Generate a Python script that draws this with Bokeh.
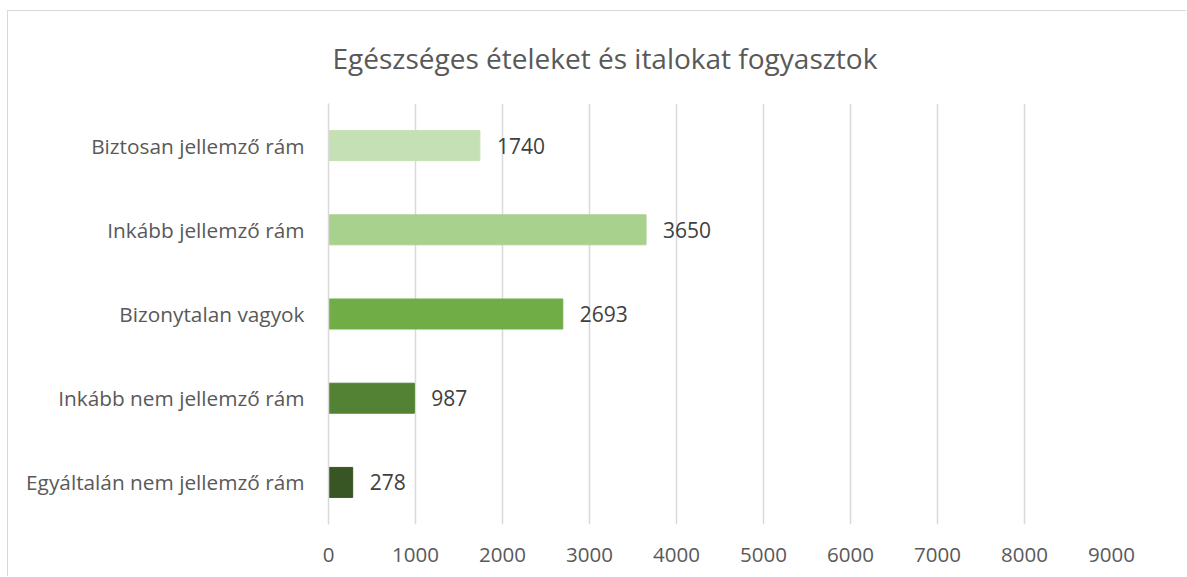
from bokeh.plotting import figure
from bokeh.models import ColumnDataSource, FixedTicker, LabelSet, Range1d
from bokeh.core.properties import value
from bokeh.embed import file_html
from bokeh.resources import INLINE

categories = ["Egyáltalán nem jellemző rám", "Inkább nem jellemző rám", "Bizonytalan vagyok",
              "Inkább jellemző rám", "Biztosan jellemző rám"]
values = [278, 987, 2693, 3650, 1740]
colors = ["#375623", "#548235", "#70AD47", "#A9D18E", "#C5E0B4"]
x_ticks = [0, 1000, 2000, 3000, 4000, 5000, 6000, 7000, 8000, 9000]
title_text = "Egészséges ételeket és italokat fogyasztok"

FONT = "Open Sans"

src = ColumnDataSource(dict(cat=categories, val=values, color=colors,
                            label=[str(v) for v in values]))

p = figure(y_range=categories, x_range=Range1d(0, 9000),
           output_backend="svg", toolbar_location=None,
           min_border_left=320, min_border_top=92, min_border_right=75, min_border_bottom=52,
           frame_width=783, frame_height=421)

p.hbar(y="cat", right="val", left=0, height=0.356, color="color", source=src)

labels = LabelSet(x="val", y="cat", text="label", source=src, x_offset=17,
                  text_baseline="middle", text_align="left", text_font=value(FONT),
                  text_font_size="21px", text_color="#404040")
p.add_layout(labels)

p.title.text = title_text
p.title.align = "left"
p.title.offset = 4
p.title.vertical_align = "top"
p.title.text_font = FONT
p.title.text_font_size = "28px"
p.title.text_font_style = "normal"
p.title.text_color = "#595959"
p.title.standoff = 50

p.xaxis.ticker = FixedTicker(ticks=x_ticks)
p.xaxis.axis_line_color = None
p.xaxis.major_tick_line_color = None
p.xaxis.minor_tick_line_color = None
p.xaxis.major_tick_out = 0
p.xaxis.minor_tick_out = 0
p.xaxis.major_label_text_font = FONT
p.xaxis.major_label_text_font_size = "20.5px"
p.xaxis.major_label_text_color = "#595959"
p.xaxis.major_label_standoff = 23

p.yaxis.axis_line_color = "#D9D9D9"
p.yaxis.axis_line_width = 1.5
p.yaxis.major_tick_line_color = None
p.yaxis.minor_tick_line_color = None
p.yaxis.major_tick_out = 0
p.yaxis.minor_tick_out = 0
p.yaxis.major_label_text_font = FONT
p.yaxis.major_label_text_font_size = "20.8px"
p.yaxis.major_label_text_color = "#595959"
p.yaxis.major_label_standoff = 24

p.xgrid.grid_line_color = "#D9D9D9"
p.xgrid.grid_line_width = 1.5
p.ygrid.grid_line_color = None
p.outline_line_color = None
p.background_fill_color = "white"
p.border_fill_color = "white"
p.styles = {"border-top": "1px solid #D9D9D9", "border-left": "1px solid #D9D9D9",
            "margin-top": "10px", "margin-left": "7px"}

open("out.html", "w").write(file_html(p, INLINE))
